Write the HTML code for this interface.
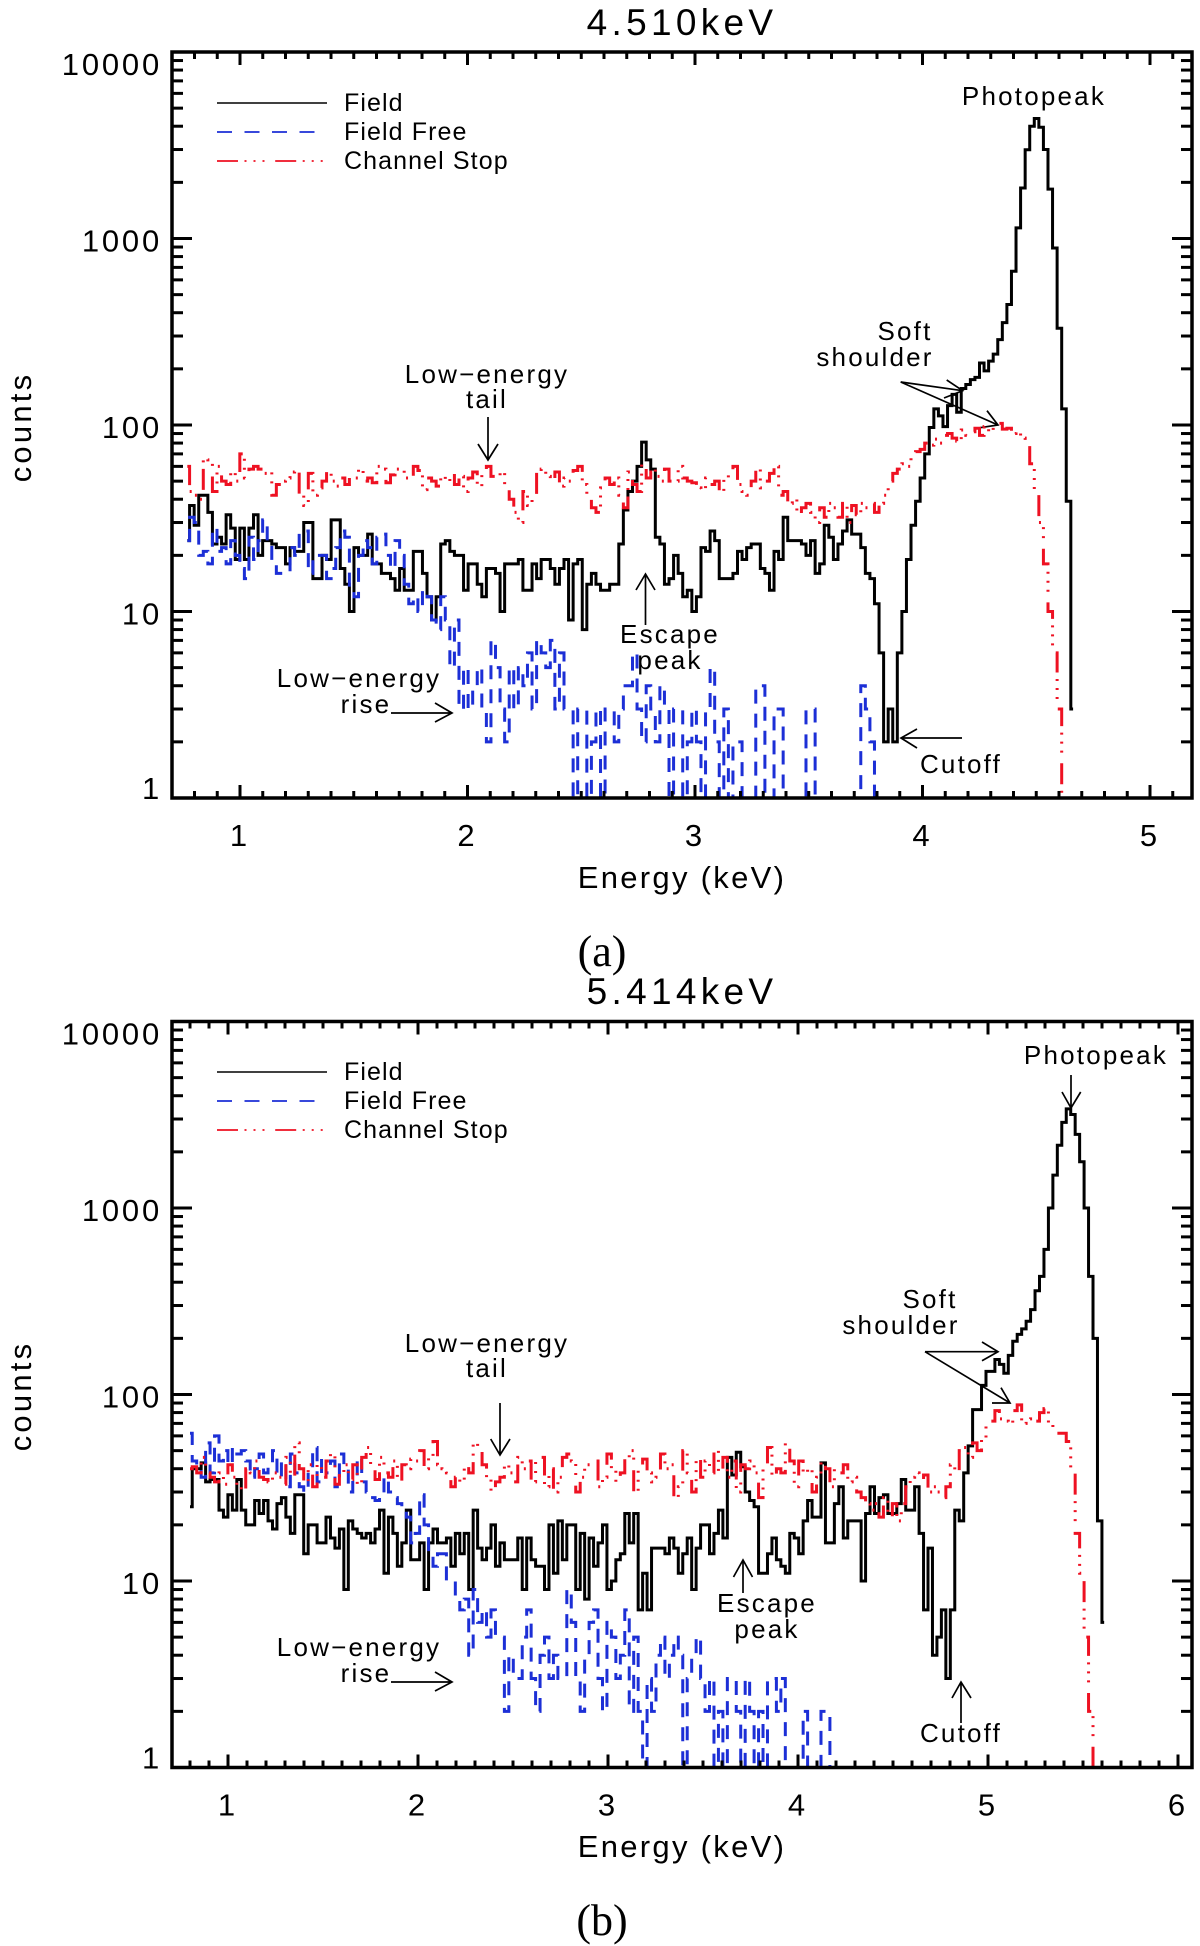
<!DOCTYPE html>
<html lang="en">
<head>
<meta charset="utf-8">
<title>Energy spectra at 4.510 keV and 5.414 keV</title>
<style>
html,body{margin:0;padding:0;background:#fff}
svg{display:block}
text{font-family:"Liberation Sans",sans-serif;fill:#000}
.ann{font-size:26px;letter-spacing:2.2px;text-anchor:middle}
.leg{font-size:25px;letter-spacing:1.1px}
.title{font-size:37px;letter-spacing:4.3px;text-anchor:middle}
.axt{font-size:31px;letter-spacing:2.3px;text-anchor:middle}
.cap{font-family:"Liberation Serif",serif;font-size:44px;text-anchor:middle}
.arrow{fill:none;stroke:#000;stroke-width:1.7}
</style>
</head>
<body>
<svg id="chart" xmlns="http://www.w3.org/2000/svg" width="1200" height="1946" viewBox="0 0 1200 1946">
  <rect x="0" y="0" width="1200" height="1946" fill="#fff"/>

  <g id="panel-a">
    <text class="title" x="682" y="35">4.510keV</text>
    <text class="axt" x="682" y="888">Energy (keV)</text>
    <text class="axt" transform="translate(31 427) rotate(-90)" style="letter-spacing:3.2px">counts</text>
    <g>
      <line x1="217" x2="327" y1="103" y2="103" stroke="#000" stroke-width="1.6"/>
      <text class="leg" x="344" y="111">Field</text>
      <line x1="217" x2="327" y1="132" y2="132" stroke="#1c2fd6" stroke-width="1.8" stroke-dasharray="15 12.5"/>
      <text class="leg" x="344" y="140">Field Free</text>
      <line x1="217" x2="327" y1="161" y2="161" stroke="#ee1122" stroke-width="1.8" stroke-dasharray="21 6.5 2 7 2 7 2 10.7"/>
      <text class="leg" x="344" y="169">Channel Stop</text>
    </g>
    <g>
      <text class="ann" x="487" y="383">Low−energy</text>
      <text class="ann" x="487" y="408">tail</text>
      <path class="arrow" d="M488 417V460M478 444L488 460L498 444"/>
      <text class="ann" x="359" y="687">Low−energy</text>
      <text class="ann" x="366" y="713">rise</text>
      <path class="arrow" d="M391 713H452M435 703L452 713L435 722"/>
      <text class="ann" x="670" y="643">Escape</text>
      <text class="ann" x="670" y="669">peak</text>
      <path class="arrow" d="M645.500 625V574M636 590L645.500 574L655 590"/>
      <text class="ann" x="961" y="773">Cutoff</text>
      <path class="arrow" d="M962 738H901M917 729L901 738L917 748"/>
      <text class="ann" x="1034" y="105">Photopeak</text>
      <text class="ann" x="905" y="340">Soft</text>
      <text class="ann" x="875" y="366">shoulder</text>
      <path class="arrow" d="M900.700 382L962.700 390.700M946.700 380L962.700 390.700L944 398"/>
      <path class="arrow" d="M900.700 382L998 425M987 410.700L998 425L980 427.700"/>
    </g>
    <text class="cap" x="602" y="966">(a)</text>
  </g>

  <g id="panel-b">
    <text class="title" x="682" y="1004">5.414keV</text>
    <text class="axt" x="682" y="1857">Energy (keV)</text>
    <text class="axt" transform="translate(31 1396) rotate(-90)" style="letter-spacing:3.2px">counts</text>
    <g>
      <line x1="217" x2="327" y1="1072" y2="1072" stroke="#000" stroke-width="1.6"/>
      <text class="leg" x="344" y="1080">Field</text>
      <line x1="217" x2="327" y1="1101" y2="1101" stroke="#1c2fd6" stroke-width="1.8" stroke-dasharray="15 12.5"/>
      <text class="leg" x="344" y="1109">Field Free</text>
      <line x1="217" x2="327" y1="1130" y2="1130" stroke="#ee1122" stroke-width="1.8" stroke-dasharray="21 6.5 2 7 2 7 2 10.7"/>
      <text class="leg" x="344" y="1138">Channel Stop</text>
    </g>
    <g>
      <text class="ann" x="487" y="1352">Low−energy</text>
      <text class="ann" x="487" y="1377">tail</text>
      <path class="arrow" d="M500 1403V1455M490.700 1439L500 1455L510 1439"/>
      <text class="ann" x="359" y="1656">Low−energy</text>
      <text class="ann" x="366" y="1682">rise</text>
      <path class="arrow" d="M391 1682H452M435 1672L452 1682L435 1691"/>
      <text class="ann" x="767" y="1612">Escape</text>
      <text class="ann" x="767" y="1638">peak</text>
      <path class="arrow" d="M743 1593V1560M733.500 1577L743 1560L752.500 1577"/>
      <text class="ann" x="961" y="1742">Cutoff</text>
      <path class="arrow" d="M961 1723V1682M952 1698L961 1682L971 1698"/>
      <text class="ann" x="1096" y="1064">Photopeak</text>
      <path class="arrow" d="M1071 1075V1108M1062 1092L1071 1108L1080.700 1092"/>
      <text class="ann" x="930" y="1308">Soft</text>
      <text class="ann" x="901" y="1334">shoulder</text>
      <path class="arrow" d="M925 1351.700H998M982 1342L998 1351.700L982 1360.700"/>
      <path class="arrow" d="M925 1351.700L1010 1403M1001 1387.700L1010 1403L992 1403"/>
    </g>
    <text class="cap" x="602" y="1935">(b)</text>
  </g>
</svg>
<script>
// ---- chart data: counts per energy bin ----
const yTickLabels = [1, 10, 100, 1000, 10000];
const yMinorMultipliers = [2, 3, 4, 5, 6, 7, 8, 9];
const xTickLabelsA = [1, 2, 3, 4, 5];
const xTickLabelsB = [1, 2, 3, 4, 5, 6];

const binStartA = 0.7684, binWidthA = 0.02007;
const binStartB = 0.8000, binWidthB = 0.02347;

const fieldCountsA = [
24,37,29,42,42,34,23,25,23,33,
28,19,28,19,28,33,20,24,24,23,
22,22,18,22,21,21,30,30,15,15,
20,19,31,31,17,14,10,22,20,20,
26,18,18,16,16,15,13,17,13,13,
21,21,16,12,9,12,23,24,21,20,
20,13,18,18,14,12,17,17,16,10,
18,18,18,19,13,13,18,15,19,19,
17,14,17,19,9,18,19,8,14,16,
14,13,13,14,14,23,35,44,50,60,
81,65,58,25,23,14,15,20,16,12,
13,10,12,22,21,27,24,15,15,15,
16,21,19,22,23,23,17,16,13,21,
19,32,24,24,24,23,20,24,16,18,
29,25,19,23,27,31,26,26,22,16,
15,11,6,2,3,2,6,10,19,29,
39,52,70,97,122,112,98,127,146,117,
157,165,175,180,215,195,220,240,287,354,
443,667,1140,1865,2990,4000,4400,3950,3000,1840,
890,330,122,39,3];

const fieldFreeCountsA = [
24,32,30,20,21,18,28,21,22,18,
24,20,17,15,25,19,24,31,23,18,
16,16,16,22,20,27,27,16,19,20,
20,15,17,22,27,25,13,12,20,24,
22,18,25,26,20,17,24,20,14,11,
12,10,13,12,9,8,12,9,5,9,
3,5,3,4,5,3,2,7,5,3,
2,5,3,5,4,6,3,7,6,5,
7,3,6,3,3,0,3,3,0,2,
3,0,3,3,2,3,4,4,6,3,
2,4,3,2,4,3,0,3,3,0,
2,3,2,1,3,5,2,0,3,1,
2,2,1,0,1,4,4,0,0,3,
3,0,0,0,0,0,3,3,0,0,
0,0,0,0,0,0,0,0,4,3,
2,0,0,0,0];

const channelStopCountsA = [
60,44,42,40,66,65,44,60,50,48,
56,50,70,52,58,60,58,55,56,42,
48,50,52,56,58,42,37,55,42,46,
50,56,50,47,52,48,52,52,58,50,
52,49,60,58,49,54,58,57,52,51,
60,57,45,52,50,47,53,50,55,48,
53,44,52,56,47,54,60,53,53,56,
47,40,34,30,44,37,42,56,58,53,
50,56,47,52,50,57,60,48,40,36,
34,46,52,48,52,42,36,56,48,44,
62,52,58,53,50,58,50,50,60,52,
50,49,46,45,52,48,50,44,52,56,
60,48,44,42,50,58,46,50,55,60,
42,44,38,40,33,36,38,34,30,36,
32,38,36,32,38,30,37,33,38,36,
38,34,38,42,50,55,58,62,60,70,
72,74,80,78,84,80,88,90,85,82,
94,88,92,96,88,98,92,100,102,95,
96,90,92,85,80,62,45,30,18,10,
6,3,1,0];

const fieldCountsB = [
25,40,40,43,34,35,35,24,22,29,
24,35,24,20,20,27,23,27,21,19,
26,28,22,18,29,29,14,20,20,16,
16,22,17,15,19,9,21,19,18,17,
18,16,19,24,11,22,18,12,16,24,
13,13,16,9,16,19,16,16,17,12,
18,14,18,9,24,15,13,15,20,12,
16,13,13,13,17,9,17,13,12,12,
9,20,11,21,13,20,20,9,18,8,
17,12,16,20,9,10,13,14,23,16,
23,
7,11,7,15,15,15,14,17,15,11,
14,17,9,15,20,20,14,18,24,17,
46,37,49,41,30,27,25,11,11,14,
17,13,12,11,18,17,14,21,27,22,
22,43,16,16,26,32,17,21,21,21,
10,23,32,23,28,29,23,23,26,35,
24,24,32,18,7,15,4,5,7,3,
7,24,21,38,53,83,83,
112,133,133,154,145,130,162,193,210,225,
247,285,360,430,600,1000,1500,2170,2880,
3400,3170,2480,1770,1000,430,200,21,6];

const fieldFreeCountsB = [
62,44,40,36,55,38,60,44,50,42,
52,48,50,44,36,40,48,38,42,50,
36,44,32,48,38,32,30,40,52,34,
46,38,44,32,48,42,30,36,46,34,
30,28,27,28,36,30,28,26,24,22,
16,18,29,20,14,12,14,14,10,10,
8,7,8,4,9,6,7,5,7,5,
5,2,4,3,3,5,7,3,2,4,
5,3,4,3,3,9,6,3,2,4,
6,7,3,2,6,5,3,4,7,2,
5,2,0,3,2,4,5,3,4,5,
4,0,3,4,5,3,2,3,0,2,
0,3,3,2,0,3,2,0,2,1,
3,3,2,3,0,0,1,1,2,1,
0,0,2,2,0,0,0,0];

const channelStopCountsB = [
40,41,38,46,38,36,34,38,33,42,
36,32,30,40,38,44,36,35,34,38,
36,33,46,36,55,40,34,42,32,42,
36,44,48,33,38,42,35,42,33,46,
52,42,35,46,38,36,44,34,42,40,
45,44,50,40,46,56,42,40,38,32,
36,34,42,38,55,52,42,36,30,34,
36,42,38,34,46,40,44,34,44,46,
32,40,30,36,46,48,44,30,36,42,
42,44,32,36,48,40,34,38,46,50,
30,42,45,38,34,36,48,40,42,28,
32,50,38,30,46,36,44,38,50,38,
46,36,44,30,42,40,44,38,28,42,
52,36,40,38,55,44,32,44,38,40,
30,36,44,40,32,40,38,42,34,36,
30,28,26,24,26,22,28,22,26,21,
26,32,36,38,35,37,30,32,30,28,
32,42,38,50,52,46,55,50,58,70,
72,82,74,72,70,82,88,70,74,76,
72,80,84,70,64,62,62,56,40,18,
11,5,2,0];

// ---- rendering ----
const NS = 'http://www.w3.org/2000/svg';

function makeAxes(tickOneX, pxPerKeV, topY) {
  const left = 172, right = 1192, bottom = topY + 746, decade = 186.5;
  return {
    left: left, right: right, top: topY, bottom: bottom,
    x: function (e) { return tickOneX + (e - 1) * pxPerKeV; },
    y: function (v) { return v <= 0 ? bottom : bottom - Math.log10(v) * decade; }
  };
}

function stepPath(values, start, width, ax) {
  let d = 'M' + ax.x(start).toFixed(2) + ' ' + ax.y(values[0]).toFixed(2);
  for (let i = 1; i < values.length; i++) {
    const xm = ax.x(start + (i - 0.5) * width).toFixed(2);
    d += 'L' + xm + ' ' + ax.y(values[i - 1]).toFixed(2);
    d += 'L' + xm + ' ' + ax.y(values[i]).toFixed(2);
  }
  d += 'L' + ax.x(start + (values.length - 1) * width).toFixed(2) + ' ' + ax.y(values[values.length - 1]).toFixed(2);
  return d;
}

function addSeries(group, clipId, values, start, width, ax, color, dash) {
  const p = document.createElementNS(NS, 'path');
  p.setAttribute('d', stepPath(values, start, width, ax));
  p.setAttribute('fill', 'none');
  p.setAttribute('stroke', color);
  p.setAttribute('stroke-width', '3');
  p.setAttribute('stroke-linejoin', 'miter');
  p.setAttribute('clip-path', 'url(#' + clipId + ')');
  if (dash) p.setAttribute('stroke-dasharray', dash);
  group.appendChild(p);
  return p;
}

function addLine(group, x1, y1, x2, y2, w) {
  const l = document.createElementNS(NS, 'line');
  l.setAttribute('x1', x1); l.setAttribute('y1', y1);
  l.setAttribute('x2', x2); l.setAttribute('y2', y2);
  l.setAttribute('stroke', '#000');
  l.setAttribute('stroke-width', w);
  group.appendChild(l);
  return l;
}

function drawPanel(panelId, ax, xLabels, cfg) {
  const g = document.getElementById(panelId);

  const defs = document.createElementNS(NS, 'defs');
  const cp = document.createElementNS(NS, 'clipPath');
  cp.setAttribute('id', 'clip-' + panelId);
  const cr = document.createElementNS(NS, 'rect');
  cr.setAttribute('x', ax.left);
  cr.setAttribute('y', ax.top);
  cr.setAttribute('width', ax.right - ax.left);
  cr.setAttribute('height', ax.bottom - ax.top + 2);
  cp.appendChild(cr);
  defs.appendChild(cp);
  g.appendChild(defs);

  const f = addSeries(g, 'clip-' + panelId, cfg.field, cfg.start, cfg.width, ax, '#000', null);
  
  
  const b = addSeries(g, 'clip-' + panelId, cfg.free, cfg.start, cfg.width, ax, '#1c2fd6', '14 10');
  
  
  const r = addSeries(g, 'clip-' + panelId, cfg.stop, cfg.start, cfg.width, ax, '#ee1122', '21 6.5 2 7 2 7 2 10.7');
  
  

  const axes = document.createElementNS(NS, 'g');
  
  
  g.appendChild(axes);

  const frame = document.createElementNS(NS, 'rect');
  frame.setAttribute('x', ax.left);
  frame.setAttribute('y', ax.top);
  frame.setAttribute('width', ax.right - ax.left);
  frame.setAttribute('height', ax.bottom - ax.top);
  frame.setAttribute('fill', 'none');
  frame.setAttribute('stroke', '#000');
  frame.setAttribute('stroke-width', '3.5');
  
  
  axes.appendChild(frame);

  // y ticks
  yTickLabels.forEach(function (v) {
    const y = ax.y(v);
    if (v > 1 && v < 10000) {
      const t1 = addLine(axes, ax.left, y, ax.left + 20, y, 3);
      
      
      const t2 = addLine(axes, ax.right, y, ax.right - 20, y, 3);
      
      
    }
    if (v < 10000) {
      yMinorMultipliers.forEach(function (m) {
        const ym = ax.y(v * m);
        const t3 = addLine(axes, ax.left, ym, ax.left + 11, ym, 3);
        
        
        const t4 = addLine(axes, ax.right, ym, ax.right - 11, ym, 3);
        
        
      });
    }
    const lab = document.createElementNS(NS, 'text');
    lab.textContent = String(v);
    lab.setAttribute('x', ax.left - 10);
    lab.setAttribute('y', Math.max(ax.top + 23, Math.min(ax.bottom + 1, y + 13)));
    lab.setAttribute('text-anchor', 'end');
    lab.setAttribute('font-size', '31');
    lab.setAttribute('letter-spacing', '2.8');
    
    
    axes.appendChild(lab);
  });

  // x ticks: minor every 0.1 keV, major at labelled values
  const firstTenth = Math.ceil((ax.left - ax.x(0)) / (ax.x(0.1) - ax.x(0)) + 0.01);
  for (let n = firstTenth; ax.x(n / 10) < ax.right - 1; n++) {
    const xp = ax.x(n / 10);
    const len = n % 10 === 0 ? 13 : 7;
    const t5 = addLine(axes, xp, ax.bottom, xp, ax.bottom - len, 3);
    
    
    const t6 = addLine(axes, xp, ax.top, xp, ax.top + len, 3);
    
    
  }
  xLabels.forEach(function (e) {
    const lab = document.createElementNS(NS, 'text');
    lab.textContent = String(e);
    lab.setAttribute('x', ax.x(e) - 1.5);
    lab.setAttribute('y', ax.bottom + 48);
    lab.setAttribute('text-anchor', 'middle');
    lab.setAttribute('font-size', '31');
    
    
    axes.appendChild(lab);
  });
}

drawPanel('panel-a', makeAxes(240, 227.5, 52), xTickLabelsA, {
  field: fieldCountsA, free: fieldFreeCountsA, stop: channelStopCountsA,
  start: binStartA, width: binWidthA
});
drawPanel('panel-b', makeAxes(228, 190, 1021.5), xTickLabelsB, {
  field: fieldCountsB, free: fieldFreeCountsB, stop: channelStopCountsB,
  start: binStartB, width: binWidthB
});
</script>
</body>
</html>
